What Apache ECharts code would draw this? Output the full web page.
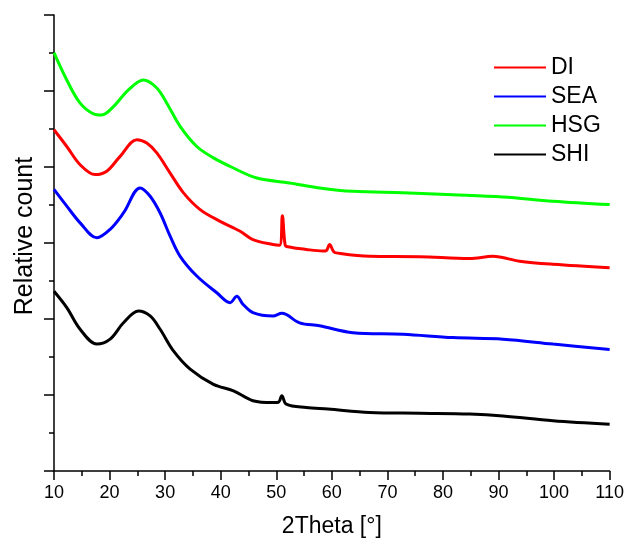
<!DOCTYPE html>
<html>
<head>
<meta charset="utf-8">
<script src="https://cdn.jsdelivr.net/npm/echarts@6/dist/echarts.min.js"></script>
<style>html,body{margin:0;padding:0;background:#fff}#c{width:627px;height:543px}</style>
</head>
<body>
<div id="c"></div>
<script>
var legendNames = ['DI', 'SEA', 'HSG', 'SHI'];
var xTicks = [10, 20, 30, 40, 50, 60, 70, 80, 90, 100, 110];

var thetaHSG = [10, 12.3, 14.7, 17.1, 18.6, 20.7, 23.4, 26.1, 28.5, 30.3, 32.7, 35.7, 38.7, 42.2, 46.5, 52.4, 57.8, 63.8, 72.8, 81.8, 90.8, 99.8, 110];
var countHSG = [11.01, 10.29, 9.68, 9.40, 9.37, 9.59, 10.03, 10.29, 10.08, 9.68, 9.07, 8.54, 8.24, 7.98, 7.71, 7.58, 7.45, 7.36, 7.32, 7.27, 7.21, 7.10, 7.01];

var thetaDI = [10, 12.3, 14.7, 17.4, 19.5, 21.9, 24.9, 26.7, 28.5, 30.9, 33.3, 36.3, 39.9, 43.5, 45.8, 49.4, 50.6, 51.1, 51.6, 52.1, 55.4, 58.4, 59.0, 59.6, 60.3, 60.8, 66.8, 75.8, 84.8, 89.0, 93.8, 99.8, 110];
var countDI = [8.98, 8.54, 8.06, 7.80, 7.89, 8.28, 8.72, 8.63, 8.37, 7.84, 7.32, 6.88, 6.57, 6.31, 6.09, 5.96, 5.94, 6.72, 5.95, 5.90, 5.83, 5.79, 5.80, 5.96, 5.78, 5.74, 5.65, 5.64, 5.59, 5.65, 5.52, 5.44, 5.35];

var thetaSEA = [10, 12.3, 14.7, 17.7, 20.1, 22.5, 25.5, 27.3, 29.1, 30.9, 32.7, 35.7, 39.3, 41.7, 42.9, 44.0, 45.8, 49.4, 51.0, 54.2, 57.8, 63.8, 72.8, 81.8, 90.8, 99.8, 110];
var countSEA = [7.41, 6.97, 6.53, 6.14, 6.36, 6.79, 7.45, 7.23, 6.79, 6.18, 5.65, 5.13, 4.69, 4.43, 4.60, 4.39, 4.17, 4.08, 4.15, 3.90, 3.82, 3.64, 3.60, 3.51, 3.47, 3.34, 3.20];

var thetaSHI = [10, 12.3, 14.7, 17.7, 20.1, 22.5, 25.2, 27.3, 29.1, 31.5, 34.5, 38.7, 42.3, 45.8, 49.4, 50.4, 51.0, 51.8, 55.4, 59.3, 66.8, 75.8, 84.8, 90.8, 99.8, 110];
var countSHI = [4.73, 4.30, 3.73, 3.34, 3.47, 3.90, 4.21, 4.08, 3.73, 3.16, 2.68, 2.28, 2.11, 1.85, 1.80, 1.81, 1.98, 1.76, 1.67, 1.63, 1.54, 1.52, 1.50, 1.45, 1.32, 1.23];

function pairs(xs, ys) { return xs.map(function (x, i) { return [x, ys[i]]; }); }

var FONT = 'Liberation Sans, Arial, sans-serif';
function mk(name, xs, ys, color) {
  return {
    name: name, type: 'line', data: pairs(xs, ys), symbol: 'none', showSymbol: false,
    smooth: 0.35,
    lineStyle: { color: color, width: 3 }, itemStyle: { color: color }
  };
}

var chart = echarts.init(document.getElementById('c'), null, { renderer: 'canvas' });
chart.setOption({
  animation: false,
  backgroundColor: '#ffffff',
  grid: { left: 54, right: 17, top: 15, bottom: 71, containLabel: false },
  legend: {
    data: legendNames.map(function (n) { return { name: n, icon: 'rect' }; }),
    orient: 'vertical', left: 489, top: 51,
    itemWidth: 52, itemHeight: 2, itemGap: 6,
    textStyle: { fontSize: 23, lineHeight: 20, fontFamily: FONT, color: '#000' }
  },
  xAxis: {
    type: 'value', min: 10, max: 110, interval: 10,
    name: '2Theta [°]', nameLocation: 'middle', nameGap: 44,
    nameTextStyle: { fontSize: 23, fontFamily: FONT, color: '#000' },
    axisLine: { lineStyle: { color: '#000', width: 1.5 } },
    axisTick: { show: true, inside: false, length: 9, lineStyle: { color: '#000', width: 1.5 } },
    minorTick: { show: true, splitNumber: 2, length: 5, lineStyle: { color: '#000', width: 1.5 } },
    splitLine: { show: false },
    axisLabel: { fontSize: 18, fontFamily: FONT, color: '#000', margin: 13,
      formatter: function (v) { return xTicks.indexOf(v) >= 0 ? String(v) : ''; } }
  },
  yAxis: {
    type: 'value', min: 0, max: 12, interval: 2,
    name: 'Relative count', nameLocation: 'middle', nameGap: 16, nameRotate: 90,
    nameTextStyle: { fontSize: 25, fontFamily: FONT, color: '#000', padding: [0, 0, 0, 14] },
    axisLine: { show: true, lineStyle: { color: '#000', width: 1.5 } },
    axisTick: { show: true, inside: false, length: 10, lineStyle: { color: '#000', width: 1.5 } },
    minorTick: { show: true, splitNumber: 2, length: 5, lineStyle: { color: '#000', width: 1.5 } },
    splitLine: { show: false },
    axisLabel: { show: false }
  },
  series: [
    mk('DI', thetaDI, countDI, '#ff0000'),
    mk('SEA', thetaSEA, countSEA, '#0000ff'),
    mk('HSG', thetaHSG, countHSG, '#00ff00'),
    mk('SHI', thetaSHI, countSHI, '#000000')
  ]
});
</script>
</body>
</html>
